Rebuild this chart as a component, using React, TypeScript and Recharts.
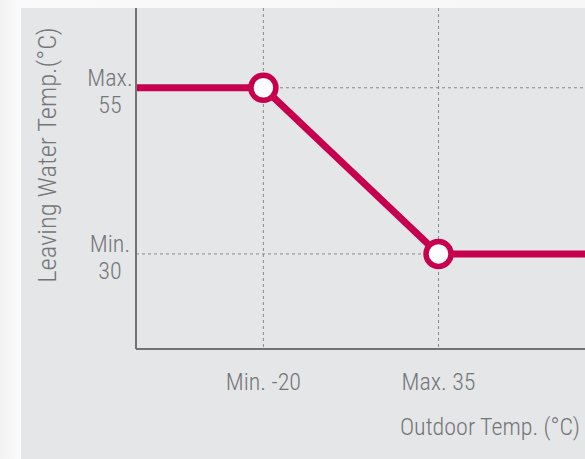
import React from 'react';
import {
  LineChart,
  Line,
  XAxis,
  YAxis,
  CartesianGrid,
  Label,
} from 'recharts';

// outdoor temp (x) vs leaving water temp (y)
const outdoorTemps = [-60, -20, 35, 81];
const waterTemps = [55, 55, 30, 30];

const xTicks = [-20, 35];
const xTickNames = ['Min.', 'Max.'];
const yTicks = [30, 55];
const yTickNames = ['Min.', 'Max.'];

const xTitle = 'Outdoor Temp. (°C)';
const yTitle = 'Leaving Water Temp.(°C)';

const data = outdoorTemps.map((x, i) => ({ x, y: waterTemps[i] }));

const FONT = '"Roboto Condensed", Roboto, sans-serif';
const TEXT = '#737577';
const RED = '#c6004f';

const YTick = (props: any) => {
  const { x, y, payload } = props;
  const name = yTickNames[yTicks.indexOf(payload.value)];
  return (
    <g>
      <text x={x - 18} y={y - 2} textAnchor="middle" fill={TEXT} fontSize={24} fontWeight={300} fontFamily={FONT}>
        {name}
      </text>
      <text x={x - 18} y={y + 25} textAnchor="middle" fill={TEXT} fontSize={24} fontWeight={300} fontFamily={FONT}>
        {payload.value}
      </text>
    </g>
  );
};

const XTick = (props: any) => {
  const { x, y, payload } = props;
  const name = xTickNames[xTicks.indexOf(payload.value)];
  return (
    <text x={x} y={y + 33} textAnchor="middle" fill={TEXT} fontSize={24} fontWeight={300} fontFamily={FONT}>
      {`${name} ${payload.value}`}
    </text>
  );
};

const renderDot = (props: any) => {
  const { cx, cy, index } = props;
  if (index === 0 || index === data.length - 1) return <g key={index} />;
  return <circle key={index} cx={cx} cy={cy} r={12.5} fill="#fff" stroke={RED} strokeWidth={5.5} />;
};

export default function App() {
  return (
    <div
      style={{
        position: 'fixed',
        left: 0,
        top: 0,
        width: 585,
        height: 459,
        background: 'linear-gradient(90deg, #f2f2f2 0%, #fafafa 3%, #f7f7f7 100%)',
        overflow: 'hidden',
      }}
    >
      <div
        style={{
          position: 'absolute',
          left: 21,
          top: 8,
          right: 0,
          bottom: 0,
          background: '#e5e6e8',
        }}
      />
      <div style={{ position: 'absolute', left: 0, top: 0 }}>
        <LineChart width={585} height={459} data={data} margin={{ top: 8, right: 0, left: 0, bottom: 0 }}>
          <CartesianGrid
            stroke="#86888b"
            strokeDasharray="3 3"
            strokeWidth={1}
            horizontalValues={yTicks}
            verticalValues={xTicks}
          />
          <XAxis
            dataKey="x"
            type="number"
            domain={[-60, 81]}
            ticks={xTicks}
            tick={<XTick />}
            tickLine={false}
            axisLine={{ stroke: '#707275', strokeWidth: 2 }}
            height={110}
            allowDataOverflow
          >
            <Label
              content={() => (
                <text x={580} y={435} textAnchor="end" fill={TEXT} fontSize={24} fontWeight={300} fontFamily={FONT}>
                  {xTitle}
                </text>
              )}
            />
          </XAxis>
          <YAxis
            dataKey="y"
            type="number"
            domain={[15.7, 67]}
            ticks={yTicks}
            tick={<YTick />}
            tickLine={false}
            axisLine={{ stroke: '#707275', strokeWidth: 2 }}
            width={136}
            allowDataOverflow
          >
            <Label
              content={() => (
                <text
                  x={56}
                  y={155}
                  transform="rotate(-90 56 155)"
                  textAnchor="middle"
                  fill={TEXT}
                  fontSize={26.5}
                  fontWeight={300}
                  fontFamily={FONT}
                >
                  {yTitle}
                </text>
              )}
            />
          </YAxis>
          <Line
            type="linear"
            dataKey="y"
            stroke={RED}
            strokeWidth={7}
            dot={renderDot}
            activeDot={false}
            isAnimationActive={false}
          />
        </LineChart>
      </div>
    </div>
  );
}
